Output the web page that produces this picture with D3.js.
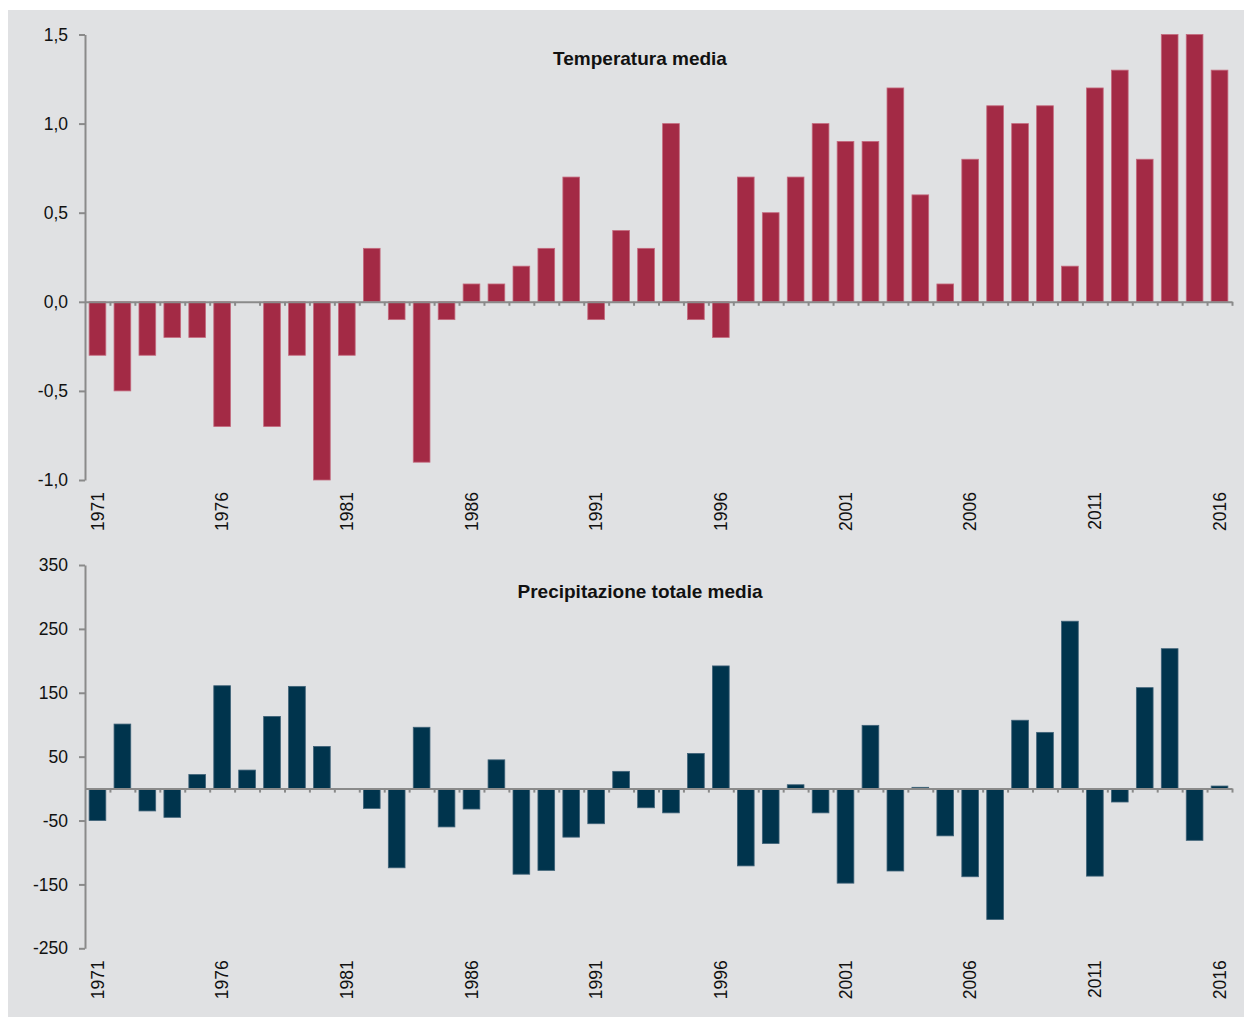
<!DOCTYPE html>
<html>
<head>
<meta charset="utf-8">
<script src="https://cdn.jsdelivr.net/npm/d3@7"></script>
<style>
  html, body { margin: 0; padding: 0; background: #ffffff; }
  svg { display: block; font-family: "Liberation Sans", Arial, sans-serif; }
</style>
</head>
<body>
<svg id="chart" width="1244" height="1017"></svg>
<script>
// ---- Data ----
const years = d3.range(1971, 2017);
const temperature = [
  -0.3, -0.5, -0.3, -0.2, -0.2, -0.7, 0.0, -0.7, -0.3, -1.0,
  -0.3, 0.3, -0.1, -0.9, -0.1, 0.1, 0.1, 0.2, 0.3, 0.7,
  -0.1, 0.4, 0.3, 1.0, -0.1, -0.2, 0.7, 0.5, 0.7, 1.0,
  0.9, 0.9, 1.2, 0.6, 0.1, 0.8, 1.1, 1.0, 1.1, 0.2,
  1.2, 1.3, 0.8, 1.5, 1.5, 1.3
];
const precipitation = [
  -50, 101, -35, -45, 22, 161, 29, 113, 160, 66,
  0, -31, -124, 96, -60, -32, 45, -134, -128, -76,
  -55, 27, -30, -38, 55, 192, -121, -86, 6, -38,
  -148, 99, -129, 2, -74, -138, -205, 107, 88, 262,
  -137, -21, 158, 219, -81, 4
];
const tempTicks = [1.5, 1.0, 0.5, 0.0, -0.5, -1.0];
const tempTickLabels = ["1,5", "1,0", "0,5", "0,0", "-0,5", "-1,0"];
const precTicks = [350, 250, 150, 50, -50, -150, -250];
const precTickLabels = ["350", "250", "150", "50", "-50", "-150", "-250"];
const yearLabels = [1971, 1976, 1981, 1986, 1991, 1996, 2001, 2006, 2011, 2016];
const titles = ["Temperatura media", "Precipitazione totale media"];

// ---- Layout ----
const svg = d3.select("#chart");
svg.append("rect").attr("x", 8).attr("y", 10).attr("width", 1236).attr("height", 1007).attr("fill", "#e0e1e3");

const x0 = 85, x1 = 1232;
const x = d3.scaleBand().domain(years).range([x0, x1]).paddingInner(0.33).paddingOuter(0.165);
const xIdx = d3.scaleLinear().domain([0, years.length]).range([x0, x1]);

const axisColor = "#8a8a8a";

function panel(cfg) {
  const y = d3.scaleLinear().domain(cfg.domain).range(cfg.range);
  const g = svg.append("g");

  // bars
  g.selectAll("rect.bar").data(cfg.values.map((v, i) => ({ year: years[i], v })))
    .enter().append("rect")
    .attr("class", "bar")
    .attr("x", d => x(d.year))
    .attr("width", x.bandwidth())
    .attr("y", d => y(Math.max(0, d.v)))
    .attr("height", d => Math.abs(y(d.v) - y(0)))
    .attr("fill", cfg.color)
    .attr("stroke", cfg.edge)
    .attr("stroke-width", 0.8);

  // y axis
  const ya = g.append("g").attr("transform", `translate(${x0},0)`)
    .call(d3.axisLeft(y).tickValues(cfg.ticks)
      .tickFormat((d, i) => cfg.tickLabels[i])
      .tickSize(6).tickSizeOuter(0).tickPadding(11));
  ya.select(".domain").attr("stroke", axisColor).attr("stroke-width", 2);
  ya.selectAll(".tick line").attr("stroke", axisColor).attr("stroke-width", 2);
  ya.selectAll(".tick text").attr("fill", "#111").attr("font-size", "17.5px")
    .attr("font-family", "'Liberation Sans', Arial, sans-serif");

  // x axis at zero
  const xa = g.append("g").attr("transform", `translate(0,${y(0)})`)
    .call(d3.axisBottom(xIdx).tickValues(d3.range(1, years.length + 1))
      .tickFormat("").tickSize(4).tickSizeOuter(0));
  xa.select(".domain").attr("stroke", axisColor).attr("stroke-width", 2);
  xa.selectAll(".tick line").attr("stroke", axisColor).attr("stroke-width", 2);

  // year labels
  g.selectAll("text.year").data(yearLabels).enter().append("text")
    .attr("class", "year")
    .attr("transform", d => `translate(${x(d) + x.bandwidth() / 2},${cfg.range[0] + 12}) rotate(-90)`)
    .attr("text-anchor", "end")
    .attr("dy", "0.36em")
    .attr("font-size", "17.5px")
    .attr("fill", "#111")
    .text(d => d);

  // title
  g.append("text")
    .attr("x", 640).attr("y", cfg.titleY)
    .attr("text-anchor", "middle")
    .attr("font-size", "19px").attr("font-weight", "bold")
    .attr("fill", "#111")
    .text(cfg.title);
}

panel({
  values: temperature, domain: [-1.0, 1.5], range: [480, 34.5],
  ticks: tempTicks, tickLabels: tempTickLabels,
  color: "#a32a45", edge: "#c46a7e", title: titles[0], titleY: 65
});
panel({
  values: precipitation, domain: [-250, 350], range: [948.3, 565],
  ticks: precTicks, tickLabels: precTickLabels,
  color: "#00344d", edge: "#3f6278", title: titles[1], titleY: 598
});
</script>
</body>
</html>
